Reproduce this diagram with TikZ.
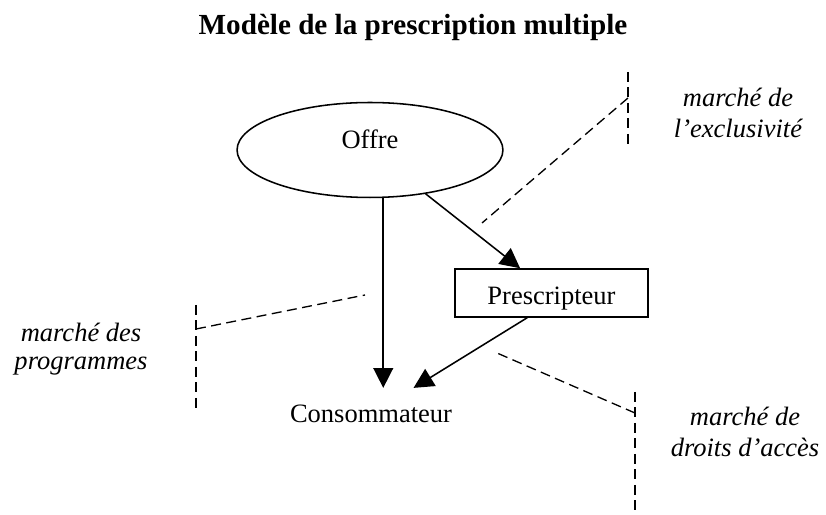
\documentclass[tikz,border=0pt]{standalone}
\usepackage{fontspec}
\setmainfont{Liberation Serif}
\usetikzlibrary{shapes.geometric,arrows.meta}

\begin{document}
\begin{tikzpicture}[x=0.4528pt,y=-0.4528pt,font=\fontsize{12}{14.4}\selectfont,
        flow/.style={line width=0.7pt,-{Triangle[length=9pt,width=9pt]}},
        limit/.style={dash pattern=on 4.5pt off 2.5pt,line width=0.6pt},
        market/.style={align=center,anchor=base,font=\fontsize{12}{14.4}\selectfont\itshape}]
        \useasboundingbox (0,0) rectangle (826,515);
        %% title
        \node[anchor=base,font=\fontsize{13.2}{16}\selectfont\bfseries] (title) at (413,35) {Modèle de la prescription multiple};
        %% offer
        \node[draw,ellipse,line width=0.7pt,minimum width=120.4pt,minimum height=43pt,inner sep=0pt,text height=8pt,text depth=9.8pt] (offre) at (370,150) {Offre};
        %% prescriber
        \node[draw,line width=0.7pt,minimum width=87.4pt,minimum height=21.7pt,text height=12pt,text depth=1.2pt] (presc) at (551.5,293) {Prescripteur};
        %% consumer
        \node[anchor=base,inner xsep=2pt,inner ysep=7.7pt,text height=8pt,text depth=0pt] (conso) at (371,423) {Consommateur};
        %% flows
        \draw[flow] ([xshift=6pt]offre.south) -- ([xshift=6pt]offre.south |- conso.north);
        \draw[flow] (offre) -- (presc);
        \draw[flow] ([xshift=-11pt]presc.south) -- (conso);
        %% market of exclusivity
        \coordinate (exclTop) at (628,72);
        \coordinate (exclBot) at (628,148);
        \coordinate (exclJoin) at (628,98);
        \coordinate (exclEnd) at (482,223);
        \draw[limit] (exclTop) -- (exclBot);
        \draw[limit] (exclJoin) -- (exclEnd);
        \node[market] (excl) at (738,138) {marché de\\l’exclusivité};
        %% market of programmes
        \coordinate (progTop) at (196,305);
        \coordinate (progBot) at (196,408);
        \coordinate (progJoin) at (196,329);
        \coordinate (progEnd) at (365,295);
        \draw[limit] (progTop) -- (progBot);
        \draw[limit] (progJoin) -- (progEnd);
        \node[market] (prog) at (81,370) {marché des\\[-1.7pt]programmes};
        %% market of access rights
        \coordinate (accTop) at (635,392);
        \coordinate (accBot) at (635,513);
        \coordinate (accJoin) at (635,413);
        \coordinate (accEnd) at (497,353);
        \draw[limit] (accTop) -- (accBot);
        \draw[limit] (accJoin) -- (accEnd);
        \node[market] (acc) at (745,457) {marché de\\droits d’accès};
    \end{tikzpicture}
\end{document}
